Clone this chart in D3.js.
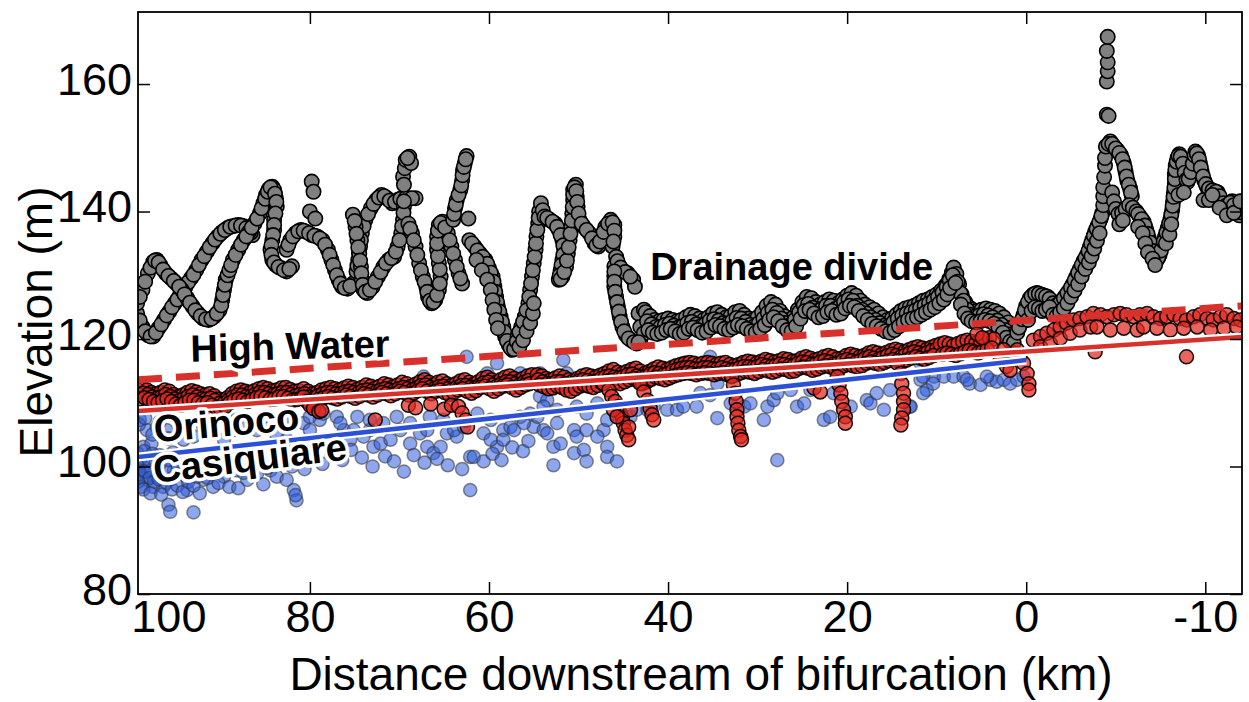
<!DOCTYPE html>
<html><head><meta charset="utf-8">
<script src="https://cdn.jsdelivr.net/npm/d3@7"></script>
<style>
html,body{margin:0;padding:0;background:#fff;}
svg{display:block;font-family:"Liberation Sans",Arial,Helvetica,sans-serif;}
</style></head><body>
<svg id="chart" width="1249" height="702"></svg>
<script>
// Elevation profiles along the Orinoco / Casiquiare bifurcation reach.
// Every record is [distance downstream of bifurcation (km), elevation (m)].

const drainageDivide = [
  [99.3,124.0],[98.7,121.9],[98.1,120.6],[97.5,120.4],[96.9,121.7],[96.3,123.0],[95.7,124.3],[95.1,125.6],[94.5,126.9],[93.9,128.2],[93.3,129.5],[92.7,130.8],[92.1,132.4],[91.5,133.7],[90.9,135.0],[90.3,136.1],[89.8,136.8],[89.2,137.4],[88.6,137.7],[88.0,137.9],[87.4,137.7],[86.8,137.1],[86.4,136.3],
  [99.0,122.9],[98.4,121.2],[97.8,120.4],[97.2,121.0],[96.6,122.3],[96.0,123.7],[95.4,125.0],[94.8,126.2],[94.2,127.5],[93.6,128.9],[93.0,130.1],[92.4,131.6],[91.8,133.0],[91.2,134.4],[90.6,135.6],[90.0,136.5],[89.5,137.1],[88.9,137.6],[88.3,137.8],[87.7,137.8],[87.1,137.4],[86.6,136.7],
  [99.3,125.6],[98.7,127.7],[98.1,130.3],[97.5,132.1],[97.1,132.4],[96.7,131.6],[96.1,130.3],[95.5,129.5],[94.9,128.7],[94.3,127.7],[93.7,126.4],[93.1,125.1],[92.5,124.0],[91.9,123.2],[91.3,123.0],[90.7,123.5],[90.1,124.5],[89.8,126.1],[89.6,127.7],[89.4,129.3],
  [99.0,126.6],[98.4,129.0],[97.8,131.2],[97.3,132.3],[96.9,132.0],[96.4,130.9],[95.8,129.9],[95.2,129.1],[94.6,128.2],[94.0,127.0],[93.4,125.7],[92.8,124.5],[92.2,123.6],[91.6,123.1],[91.0,123.2],[90.4,124.0],[89.9,125.3],[89.7,126.9],[89.5,128.5],[89.2,130.0],
  [89.0,130.8],[88.6,132.4],[88.0,134.0],[87.4,135.5],[86.8,136.8],[86.2,138.1],[85.6,139.7],[85.2,141.3],[84.9,142.6],[84.6,143.5],[84.2,143.9],[84.0,143.4],[83.8,142.1],[83.7,140.8],[84.0,138.7],[84.0,137.1],[84.2,135.5],[84.4,134.0],[84.2,132.4],[83.8,131.6],[83.2,131.1],[82.6,130.6],[82.0,131.4],
  [88.8,131.6],[88.3,133.2],[87.7,134.8],[87.1,136.1],[86.5,137.5],[85.9,138.9],[85.4,140.5],[85.0,142.0],[84.7,143.1],[84.4,143.8],[83.9,142.8],[83.75,141.5],[83.85,139.7],[84.0,137.9],[84.1,136.3],[84.3,134.7],[84.3,133.2],[84.0,132.0],[83.5,131.3],[82.9,130.8],[82.3,131.0],
  [82.6,134.0],[82.2,135.5],[81.6,136.6],[81.0,137.1],[80.4,136.8],[79.8,136.3],[79.2,136.1],[78.6,135.5],[78.0,134.0],[77.6,132.4],[77.2,130.8],[76.8,129.3],[76.4,128.2],[75.8,127.9],[75.2,128.7],
  [82.4,134.8],[81.9,136.1],[81.3,136.9],[80.7,137.0],[80.1,136.6],[79.5,136.2],[78.9,135.8],[78.3,134.8],[77.8,133.2],[77.4,131.6],[77.0,130.0],[76.6,128.7],[76.1,128.0],[75.5,128.3],
  [79.8,144.7],[79.6,143.1],[80.0,140.0],[79.4,138.9],
  [74.8,130.6],[74.6,132.4],[74.4,134.5],[74.2,136.6],[73.8,138.7],[73.2,140.5],[72.6,141.8],[72.0,142.6],[71.4,142.1],[70.8,141.3],[70.2,141.8],[69.6,142.1],[69.0,142.1],[68.2,142.1],
  [74.7,131.5],[74.5,133.5],[74.3,135.5],[74.0,137.7],[73.5,139.6],[72.9,141.2],[72.3,142.2],[71.7,142.4],[71.1,141.7],[70.5,141.5],[69.9,142.0],[69.3,142.1],[68.6,142.1],
  [75.2,139.5],[74.9,137.6],[74.7,135.5],[74.5,133.4],[74.3,131.3],[74.2,129.3],[74.0,127.7],[73.6,127.2],[73.0,128.2],[72.4,129.8],[71.8,131.3],[71.2,132.4],[70.6,132.9],
  [75.0,138.5],[74.8,136.5],[74.6,134.4],[74.4,132.3],[74.25,130.3],[74.1,128.5],[73.8,127.4],[73.3,127.7],[72.7,129.0],[72.1,130.5],[71.5,131.9],[70.9,132.7],
  [70.2,134.5],[69.8,136.6],[69.6,138.7],[69.5,140.8],[69.6,145.5],[69.4,146.8],[69.3,148.1],[68.9,148.6],[68.7,147.6],
  [70.4,133.7],[70.0,135.5],[69.7,137.7],[69.55,139.8],[69.5,141.6],[69.5,144.2],[69.1,148.4],
  [69.0,138.1],[68.6,136.6],[68.2,134.5],[67.8,131.9],[67.4,129.8],[67.0,128.2],[66.8,126.6],[66.4,125.6],[66.0,126.1],[65.6,127.7],[65.4,129.8],[65.6,131.9],[65.8,134.0],[65.8,136.1],[65.6,137.9],[65.2,138.4],[64.6,136.6],[64.2,134.5],[63.8,132.4],[63.4,130.3],[63.0,128.7],
  [68.8,137.3],[68.4,135.5],[68.0,133.2],[67.6,130.8],[67.2,129.0],[66.9,127.4],[66.6,126.0],[66.2,125.8],[65.8,126.9],[65.5,128.7],[65.5,130.9],[65.7,133.0],[65.8,135.0],[65.7,137.0],[65.4,138.2],[64.9,137.5],[64.4,135.5],[64.0,133.4],[63.6,131.3],[63.2,129.5],
  [64.0,138.7],[63.8,140.5],[63.6,141.8],[63.2,143.4],[63.0,144.9],[62.9,146.5],[62.7,147.6],[62.5,148.7],[62.3,138.9],
  [63.9,139.6],[63.7,141.1],[63.4,142.6],[63.1,144.1],[62.95,145.7],[62.8,147.0],[62.6,148.2],
  [62.2,135.5],[61.6,134.5],[61.0,133.4],[60.4,132.4],[60.0,131.1],[59.6,129.8],[59.4,128.2],[59.2,126.6],[59.0,125.1],[58.7,123.5],[58.4,121.9],[58.2,120.4],[57.8,119.1],[57.4,118.3],[57.0,118.8],
  [61.9,135.0],[61.3,133.9],[60.7,132.9],[60.2,131.8],[59.8,130.4],[59.5,129.0],[59.3,127.4],[59.1,125.8],[58.85,124.3],[58.55,122.7],[58.3,121.1],[58.0,119.7],[57.6,118.6],[57.2,118.4],
  [61.4,132.4],[60.8,130.8],[60.2,129.3],[59.8,127.7],[59.6,126.1],[59.4,124.6],[59.2,123.0],[59.0,121.7],
  [56.8,120.4],[56.4,121.9],[56.0,123.5],[55.6,125.6],[55.4,127.7],[55.2,129.8],[55.0,131.9],[54.8,134.0],[54.7,136.1],[54.5,138.1],[54.4,140.0],[54.2,141.3],
  [56.9,119.6],[56.6,121.1],[56.2,122.7],[55.8,124.5],[55.5,126.6],[55.3,128.7],[55.1,130.8],[54.9,132.9],[54.75,135.0],[54.6,137.1],[54.45,139.0],[54.0,140.2],
  [56.6,118.8],[56.2,119.8],[55.8,121.2],[55.4,122.5],[55.1,124.0],[55.0,125.6],
  [53.8,139.2],[53.2,138.7],[52.6,138.1],[52.2,137.1],[51.8,135.5],[51.6,134.0],[51.8,132.4],[52.0,130.8],[52.2,129.3],[51.8,129.8],[51.4,131.3],[51.2,133.4],[51.0,135.5],[50.8,137.6],[50.7,139.7],[50.6,141.8],[50.6,143.4],[50.3,144.2],[50.2,142.3],[50.1,140.8],[49.9,138.7],[49.4,137.6],[48.8,136.6],[48.2,135.0],[47.8,134.5],[47.4,136.1],[47.0,137.6],[46.4,138.7],[46.0,137.9],[46.0,136.1],[46.2,134.5],
  [53.5,139.0],[52.9,138.4],[52.4,137.6],[52.0,136.3],[51.7,134.7],[51.7,133.2],[51.9,131.6],[52.1,130.0],[52.0,129.4],[51.6,130.5],[51.3,132.3],[51.1,134.4],[50.9,136.5],[50.75,138.6],[50.65,140.7],[50.6,142.6],[50.45,143.8],[50.25,143.2],[50.15,141.5],[50.0,139.7],[49.65,138.1],[49.1,137.1],[48.5,135.8],[48.0,134.7],[47.6,135.3],[47.2,136.8],[46.7,138.1],[46.2,138.3],[46.0,137.0],[46.1,135.3],
  [45.8,132.9],[45.5,131.6],[45.1,130.8],[44.5,130.3],[43.9,129.3],[43.7,128.2],[46.0,131.4],[46.0,129.8],[46.0,128.2],[45.8,126.6],[45.6,125.1],[45.4,123.5],[45.1,121.9],[44.7,120.6],[44.1,119.8],[43.5,119.3],[43.1,119.8],[43.3,124.0],[42.7,124.6],[43.1,121.9],[42.7,120.9],
  [45.65,132.2],[45.3,131.2],[44.8,130.5],[44.2,129.8],[46.0,130.6],[46.0,129.0],[45.9,127.4],[45.7,125.8],[45.5,124.3],[45.25,122.7],[44.9,121.2],[44.4,120.1],[43.8,119.5],[43.3,119.5],
  [42.5,124.2],[42.0,123.6],[41.5,123.0],[41.0,122.8],[40.5,123.0],[40.0,123.2],[39.5,123.0],[39.0,122.8],[38.5,123.0],[38.0,123.4],[37.5,123.8],[37.0,123.6],[36.5,123.2],[36.0,123.0],[35.5,123.4],[35.0,124.0],[34.5,124.2],[34.0,123.8],[33.5,123.4],[33.0,123.6],[32.5,124.2],[32.0,124.4],[31.5,123.8],[31.0,123.2],[30.5,123.0],[30.0,123.4],[29.5,124.2],[29.0,125.2],[28.5,125.8],[28.0,125.4],[27.5,124.4],[27.0,123.6],[26.5,123.0],[26.0,123.4],[25.5,124.6],[25.0,125.8],[24.5,126.6],[24.0,126.4],[23.5,125.8],[23.0,125.4],[22.5,125.8],[22.0,126.2],[21.5,126.0],[21.0,125.6],[20.5,126.2],[20.0,126.8],[19.5,127.2],[19.0,126.8],[18.5,126.0],[18.0,125.4],[17.5,125.0],[17.0,124.6],[16.5,124.0],[16.0,123.4],[15.5,123.0],[15.0,123.2],[14.5,123.8],[14.0,124.4],[13.5,124.8],[13.0,125.0],[12.5,125.2],[12.0,125.6],[11.5,126.0],[11.0,126.2],[10.5,126.6],[10.0,127.0],[9.5,127.6],[9.0,128.4],[8.6,129.4],[8.3,130.4],[8.1,131.2],[7.8,130.2],[7.5,128.6],[7.2,127.0],[6.8,125.8],[6.4,125.0],[6.0,124.6],[5.5,124.4],[5.0,124.6],[4.5,124.8],[4.0,124.6],[3.5,124.4],[3.0,124.0],[2.5,123.4],[2.0,122.6],[1.6,121.8],[1.2,121.4],
  [42.35,122.8],[41.85,122.3],[41.35,121.9],[40.85,121.9],[40.35,122.2],[39.85,122.4],[39.35,122.1],[38.85,121.8],[38.35,122.0],[37.85,122.5],[37.35,122.7],[36.85,122.3],[36.35,122.0],[35.85,122.3],[35.35,122.9],[34.85,123.1],[34.35,122.9],[33.85,122.5],[33.35,122.4],[32.85,122.8],[32.35,123.3],[31.85,123.2],[31.35,122.7],[30.85,122.2],[30.35,122.0],[29.85,122.5],[29.35,123.2],[28.85,124.1],[28.35,124.6],[27.85,124.1],[27.35,123.2],[26.85,122.5],[26.35,122.2],[25.85,123.0],[25.35,124.2],[24.85,125.3],[24.35,125.5],[23.85,124.9],[23.35,124.4],[22.85,124.7],[22.35,125.2],[21.85,125.2],[21.35,124.7],[20.85,125.0],[20.35,125.8],[19.85,126.2],[19.35,126.0],[18.85,125.2],[18.35,124.6],[17.85,124.0],[17.35,123.4],[16.85,123.0],[16.35,122.5],[15.85,122.1],[15.35,122.0],[14.85,122.6],[14.35,123.2],[13.85,123.7],[13.35,124.0],[12.85,124.2],[12.35,124.5],[11.85,124.9],[11.35,125.2],[10.85,125.6],[10.35,126.0],[9.85,126.6],[9.35,127.3],[8.9,128.2],[8.55,129.2],[8.2,130.0],[7.65,129.0],[7.35,127.2],[7.0,126.0],[6.6,124.6],[6.2,123.8],[5.75,123.5],[5.25,123.7],[4.75,123.9],[4.25,123.7],[3.75,123.4],[3.25,122.9],[2.75,122.2],[2.35,121.4],[1.9,120.7],[1.5,120.4],
  [42.2,121.4],[41.7,121.0],[41.2,120.8],[40.7,121.0],[40.2,121.4],[39.7,121.6],[39.2,121.2],[38.7,120.8],[38.2,121.0],[37.7,121.6],[37.2,121.8],[36.7,121.4],[36.2,121.0],[35.7,121.2],[35.2,121.8],[34.7,122.2],[34.2,122.0],[33.7,121.6],[33.2,121.4],[32.7,121.8],[32.2,122.2],[31.7,122.0],[31.2,121.6],[30.7,121.2],[30.2,121.0],[29.7,121.6],[29.2,122.2],[28.7,123.0],[28.2,123.4],[27.7,122.8],[27.2,122.0],[26.7,121.4],[26.2,121.2],[25.7,122.0],[25.2,123.2],[24.7,124.4],[24.2,124.6],[23.7,124.0],[23.2,123.4],[22.7,123.6],[22.2,124.2],[21.7,124.4],[21.2,123.8],[20.7,124.0],[20.2,124.8],[19.7,125.2],[19.2,125.0],[18.7,124.4],[18.2,123.6],[17.7,123.0],[17.2,122.4],[16.7,122.0],[16.2,121.6],[15.7,121.2],[15.2,121.0],[14.7,121.4],[14.2,122.0],[13.7,122.6],[13.2,123.0],[12.7,123.2],[12.2,123.4],[11.7,123.8],[11.2,124.2],[10.7,124.6],[10.2,125.0],[9.7,125.6],[9.2,126.2],[8.8,127.0],[8.5,128.0],[7.9,128.8],[7.3,125.4],[6.9,124.0],[6.5,123.2],[6.1,122.8],[5.6,122.6],[5.1,122.8],[4.6,123.0],[4.1,122.8],[3.6,122.4],[3.1,121.8],[2.6,121.0],[2.2,120.2],[1.8,119.6],[1.4,119.4],
  [1.0,121.0],[0.6,122.4],[0.3,123.8],[0.0,125.2],[-0.4,126.4],[-0.8,127.0],[-1.2,127.2],[-1.6,127.0],[-2.0,126.8],[-2.4,126.6],[-2.8,126.0],[-3.2,125.2],[-3.6,125.4],[-4.0,126.0],[-4.4,126.8],[-4.8,127.6],[-5.2,128.6],[-5.6,129.8],[-6.0,131.0],[-6.4,132.2],[-6.8,133.2],[-7.1,134.4],[-7.4,135.6],[-7.7,136.8],[-8.0,137.8],[-8.3,138.8],[-8.5,139.8],
  [0.8,121.8],[0.45,123.1],[0.15,124.5],[-0.2,125.8],[-0.6,126.7],[-1.0,127.1],[-1.4,127.1],[-1.8,126.9],[-2.2,126.7],[-2.6,126.3],[-3.0,125.6],[-3.4,125.3],[-3.8,125.7],[-4.2,126.4],[-4.6,127.2],[-5.0,128.1],[-5.4,129.2],[-5.8,130.4],[-6.2,131.6],[-6.6,132.7],[-6.95,133.8],[-7.25,135.0],[-7.55,136.2],[-7.85,137.3],[-8.15,138.3],[-8.4,139.3],
  [-0.2,123.0],[-0.6,124.4],[-1.0,125.0],[-1.4,124.8],[-1.8,124.4],[-2.2,124.6],[-2.6,125.0],[-3.0,123.8],[-3.4,123.6],[-3.8,124.2],[-4.2,124.8],[-4.6,125.6],[-5.0,126.6],[-5.4,127.6],[-5.8,128.6],[-6.2,129.8],[-6.6,131.0],[-7.0,132.0],[-7.3,133.0],[-7.6,134.2],[-7.9,135.4],[-8.2,136.6],
  [-8.6,141.0],[-8.6,142.4],[-8.6,143.8],[-8.7,145.4],[-8.8,147.2],[-8.8,148.4],[-8.9,150.2],[-9.0,155.2],[-9.2,155.0],[-9.0,160.4],[-9.1,162.0],[-9.1,163.4],[-9.0,165.2],[-9.1,167.4],
  [-9.4,151.0],[-9.8,150.2],[-10.2,149.6],[-10.6,148.8],[-10.9,147.6],[-11.1,146.2],[-11.3,144.8],[-11.6,143.6],[-11.8,142.4],
  [-9.2,150.6],[-9.6,150.6],[-10.0,149.9],[-10.4,149.2],[-10.75,148.2],[-11.0,146.9],[-11.2,145.5],[-11.45,144.2],[-11.7,143.0],
  [-9.6,143.0],[-9.8,141.6],[-10.0,140.4],[-10.3,139.6],[-10.7,139.8],[-11.1,140.4],[-11.5,141.0],[-11.9,140.6],[-12.3,140.0],[-12.7,139.2],[-13.1,138.4],[-13.4,137.2],[-13.7,135.8],[-14.0,134.4],[-14.3,133.2],[-14.6,132.4],[-14.9,133.2],[-15.2,134.6],[-15.5,136.0],[-15.8,137.4],[-16.1,138.8],[-16.3,140.2],[-16.4,141.6],[-16.5,143.0],[-16.6,144.4],[-16.6,145.8],[-16.7,147.2],[-16.9,148.4],[-17.1,149.0],[-17.4,148.2],[-17.6,146.8],[-17.8,145.4],[-18.0,144.6],[-18.3,145.6],[-18.5,146.8],[-18.7,148.2],[-18.9,149.4],[-19.2,148.8],[-19.4,147.6],[-19.6,146.2],[-19.9,144.8],[-20.2,143.8],[-20.6,143.4],[-21.0,143.2],[-21.4,143.0],[-21.8,141.8],[-22.2,140.8],[-22.6,141.2],[-23.0,141.6],[-23.4,140.4],[-23.8,139.4],[-24.1,140.4],
  [-12.5,139.6],[-12.9,138.8],[-13.25,137.8],[-13.55,136.5],[-13.85,135.1],[-14.15,133.8],[-14.45,132.8],[-14.75,132.8],[-15.05,133.9],[-15.35,135.3],[-15.65,136.7],[-15.95,138.1],[-16.2,139.5],[-16.35,140.9],[-16.45,142.3],[-16.55,143.7],[-16.6,145.1],[-16.65,146.5],[-16.8,147.8],[-17.0,148.7],[-17.25,148.6],[-17.5,147.5],[-17.7,146.1],[-17.9,145.0],[-18.15,145.1],[-18.4,146.2],[-18.6,147.5],[-18.8,148.8],[-19.05,149.1],[-19.3,148.2],[-19.5,146.9],[-19.75,145.5],[-20.05,144.3],[-20.4,143.6],[-20.8,143.3],[-21.2,143.1],[-21.6,142.4],[-22.0,141.3],[-22.4,141.0],[-22.8,141.4],[-23.2,141.0],[-23.6,139.9],[-23.95,139.9],
  [-10.4,138.0],[-10.8,138.6],[-12.5,137.6],[-13.0,136.6],[-13.3,135.0],[-13.6,133.6],[-14.1,132.6],[-14.4,131.6],[-15.6,135.0],[-16.0,136.4],[-16.2,138.0],[-17.0,142.6],[-17.6,143.0],[-19.8,141.8],[-20.4,141.8],[-20.8,142.6],[-21.6,140.6],[-22.4,139.4],[-23.2,139.8],[-23.9,141.6]
];

const orinoco = [
  [99.2,112.0],[98.7,112.3],[98.2,112.0],[97.7,111.6],[97.2,111.4],[96.7,111.6],[96.2,112.0],[95.7,111.8],[95.2,111.3],[94.7,111.0],[94.2,111.2],[93.7,111.6],[93.2,111.9],[92.7,111.7],[92.2,111.4],[91.7,111.2],[91.2,111.4],[90.7,111.1],[90.2,110.6],[89.7,110.4],[89.2,110.8],[88.7,111.4],[88.2,111.8],[87.7,112.0],[87.2,111.8],[86.7,111.6],[86.2,111.9],[85.7,112.2],[85.2,112.4],[84.7,112.2],[84.2,111.9],[83.7,112.0],[83.2,112.3],[82.7,112.4],[82.2,112.1],[81.7,111.8],[81.2,111.9],[80.7,112.2],[80.2,111.8],[79.7,111.4],[79.2,111.6],[78.7,112.0],[78.2,112.2],[77.7,112.4],[77.2,112.2],[76.7,112.0],[76.2,112.3],[75.7,112.6],[75.2,112.4],[74.7,112.1],[74.2,112.4],[73.7,112.8],[73.2,112.6],[72.7,112.3],[72.2,112.6],[71.7,113.0],[71.2,112.8],[70.7,112.5],[70.2,112.8],[69.7,113.2],[69.2,113.0],[68.7,112.6],[68.2,112.9],[67.7,113.3],[67.2,113.6],[66.7,113.2],[66.2,112.8],[65.7,113.2],[65.2,113.4],[64.7,113.0],[64.2,112.7],[63.7,113.0],[63.2,113.4],[62.7,113.6],[62.2,113.2],[61.7,112.9],[61.2,113.3],[60.7,113.8],[60.2,114.0],[59.7,113.6],[59.2,113.2],[58.7,113.6],[58.2,114.0],[57.7,114.2],[57.2,113.8],[56.7,113.4],[56.2,113.8],[55.7,114.2],[55.2,114.4],
  [99.1,111.3],[98.6,111.5],[98.1,111.3],[97.6,110.9],[97.1,110.7],[96.6,110.9],[96.1,111.3],[95.6,111.0],[95.1,110.6],[94.6,110.3],[94.1,110.6],[93.6,111.0],[93.1,111.2],[92.6,110.9],[92.1,110.6],[91.6,110.6],[91.1,110.7],[90.6,110.4],[90.1,109.9],[89.6,109.9],[89.1,110.4],[88.6,110.9],[88.1,111.2],[87.6,111.2],[87.1,111.0],[86.6,111.0],[86.1,111.3],[85.6,111.6],[85.1,111.6],[84.6,111.4],[84.1,111.2],[83.6,111.4],[83.1,111.6],[82.6,111.6],[82.1,111.3],[81.6,111.1],[81.1,111.3],[80.6,111.4],[80.1,110.9],[79.6,110.7],[79.1,111.1],[78.6,111.4],[78.1,111.6],[77.6,111.6],[77.1,111.4],[76.6,111.4],[76.1,111.7],[75.6,111.8],[75.1,111.6],[74.6,111.5],[74.1,111.9],[73.6,112.0],[73.1,111.8],[72.6,111.7],[72.1,112.0],[71.6,112.2],[71.1,112.0],[70.6,111.9],[70.1,112.2],[69.6,112.4],[69.1,112.2],[68.6,112.0],[68.1,112.3],[67.6,112.7],[67.1,112.8],[66.6,112.4],[66.1,112.2],[65.6,112.5],[65.1,112.6],[64.6,112.2],[64.1,112.1],[63.6,112.4],[63.1,112.7],[62.6,112.7],[62.1,112.4],[61.6,112.3],[61.1,112.7],[60.6,113.1],[60.1,113.2],[59.6,112.8],[59.1,112.6],[58.6,113.0],[58.1,113.3],[57.6,113.3],[57.1,113.0],[56.6,112.8],[56.1,113.2],[55.6,113.5],
  [98.95,110.6],[98.45,110.8],[97.95,110.5],[97.45,110.2],[96.95,110.0],[96.45,110.3],[95.95,110.6],[95.45,110.2],[94.95,109.8],[94.45,109.6],[93.95,110.0],[93.45,110.4],[92.95,110.4],[92.45,110.0],[91.95,109.8],[91.45,110.0],[90.95,109.6],[90.45,109.2],[89.95,109.0],[89.45,109.4],[88.95,110.0],[88.45,110.4],[87.95,110.6],[87.45,110.4],[86.95,110.2],[86.45,110.5],[85.95,110.8],[85.45,111.0],[84.95,110.8],[84.45,110.5],[83.95,110.6],[83.45,110.9],[82.95,111.0],[82.45,110.7],[81.95,110.4],[81.45,110.5],[80.95,110.8],[80.45,110.4],[79.95,110.0],[79.45,110.2],[78.95,110.6],[78.45,110.8],[77.95,111.0],[77.45,110.8],[76.95,110.6],[76.45,110.9],[75.95,111.2],[75.45,111.0],[74.95,110.7],[74.45,111.0],[73.95,111.4],[73.45,111.2],[72.95,110.9],[72.45,111.2],[71.95,111.6],[71.45,111.4],[70.95,111.1],[70.45,111.4],[69.95,111.8],[69.45,111.6],[68.95,111.2],[68.45,111.5],[67.95,111.9],[67.45,112.2],[66.95,111.8],[66.45,111.4],[65.95,111.8],[65.45,112.0],[64.95,111.6],[64.45,111.3],[63.95,111.6],[63.45,112.0],[62.95,112.2],[62.45,111.8],[61.95,111.5],[61.45,111.9],[60.95,112.4],[60.45,112.6],[59.95,112.2],[59.45,111.8],[58.95,112.2],[58.45,112.6],[57.95,112.8],[57.45,112.4],[56.95,112.0],[56.45,112.4],[55.95,112.8],[55.45,113.0],
  [80.7,110.9],[80.3,110.2],[80.0,109.6],[79.6,109.1],[79.0,108.6],[78.7,108.8],[72.7,107.3],[69.0,109.6],[68.2,109.2],[66.5,109.8],[65.0,109.0],[64.2,109.6],[63.4,109.4],[63.0,108.4],[62.6,107.3],[62.4,106.2],
  [54.6,114.4],[54.1,114.2],[53.6,113.8],[53.1,113.6],[52.6,113.9],[52.1,114.2],[51.6,114.0],[51.1,113.6],[50.6,113.4],[50.1,113.8],[49.6,114.2],[49.1,114.4],[48.6,114.2],[48.1,114.0],[47.6,114.3],[47.1,114.6],[46.6,115.0],[46.1,115.2],[45.6,114.8],[45.1,114.6],[44.6,114.9],[44.1,115.2],[43.6,115.4],[43.1,115.0],[42.6,114.6],[42.1,114.9],[41.6,115.3],[41.1,115.6],[40.6,115.4],[40.1,115.2],[39.6,115.5],[39.1,115.8],[38.6,116.0],[38.1,116.2],[37.6,116.3],[37.1,116.2],[36.6,116.0],[36.1,116.2],[35.6,116.3],[35.1,116.2],[34.6,116.0],[34.1,116.2],[33.6,116.3],[33.1,116.0],[32.6,115.8],[32.1,116.0],[31.6,116.3],[31.1,116.5],[30.6,116.4],[30.1,116.2],[29.6,116.5],[29.1,116.8],[28.6,116.6],[28.1,116.4],[27.6,116.6],[27.1,116.9],[26.6,116.8],[26.1,116.5],[25.6,116.6],[25.1,117.0],[24.6,117.2],[24.1,117.0],[23.6,116.7],[23.1,116.9],[22.6,117.2],[22.1,117.4],[21.6,117.2],[21.1,116.9],[20.6,117.0],[20.1,117.4],[19.6,117.6],[19.1,117.4],[18.6,117.2],[18.1,117.4],[17.6,117.8],[17.1,118.0],[16.6,117.8],[16.1,117.6],[15.6,117.9],[15.1,118.2],[14.6,118.4],[14.1,118.2],[13.6,118.0],[13.1,118.3],[12.6,118.6],[12.1,118.8],[11.6,118.6],[11.1,118.4],[10.6,118.7],[10.1,119.0],
  [54.5,113.6],[54.0,113.3],[53.5,113.0],[53.0,113.0],[52.5,113.3],[52.0,113.3],[51.5,113.0],[51.0,112.7],[50.5,113.0],[50.0,113.4],[49.5,113.6],[49.0,113.5],[48.5,113.3],[48.0,113.4],[47.5,113.8],[47.0,114.1],[46.5,114.2],[46.0,114.0],[45.5,113.9],[45.0,114.1],[44.5,114.4],[44.0,114.5],[43.5,114.2],[43.0,114.0],[42.5,114.1],[42.0,114.5],[41.5,114.7],[41.0,114.6],[40.5,114.4],[40.0,114.6],[39.5,115.0],[39.0,115.2],[38.5,115.4],[38.0,115.5],[37.5,115.5],[37.0,115.3],[36.5,115.3],[36.0,115.5],[35.5,115.5],[35.0,115.3],[34.5,115.3],[34.0,115.5],[33.5,115.3],[33.0,115.1],[32.5,115.2],[32.0,115.5],[31.5,115.7],[31.0,115.6],[30.5,115.5],[30.0,115.7],[29.5,116.0],[29.0,115.8],[28.5,115.7],[28.0,115.8],[27.5,116.1],[27.0,116.0],[26.5,115.8],[26.0,115.8],[25.5,116.2],[25.0,116.4],[24.5,116.3],[24.0,116.0],[23.5,116.1],[23.0,116.4],[22.5,116.6],[22.0,116.4],[21.5,116.1],[21.0,116.2],[20.5,116.6],[20.0,116.8],[19.5,116.6],[19.0,116.4],[18.5,116.6],[18.0,117.0],[17.5,117.2],[17.0,117.0],[16.5,116.8],[16.0,117.1],[15.5,117.4],[15.0,117.6],[14.5,117.4],[14.0,117.2],[13.5,117.5],[13.0,117.8],[12.5,118.0],[12.0,117.8],[11.5,117.6],[11.0,117.9],[10.5,118.2],[10.0,118.4],
  [54.35,112.8],[53.85,112.5],[53.35,112.2],[52.85,112.3],[52.35,112.6],[51.85,112.4],[51.35,112.0],[50.85,111.8],[50.35,112.2],[49.85,112.6],[49.35,112.8],[48.85,112.6],[48.35,112.4],[47.85,112.7],[47.35,113.0],[46.85,113.4],[46.35,113.5],[45.85,113.2],[45.35,113.0],[44.85,113.3],[44.35,113.6],[43.85,113.8],[43.35,113.4],[42.85,113.0],[42.35,113.3],[41.85,113.7],[41.35,114.0],[40.85,113.8],[40.35,113.6],[39.85,113.9],[39.35,114.2],[38.85,114.4],[38.35,114.6],[37.85,114.7],[37.35,114.6],[36.85,114.4],[36.35,114.6],[35.85,114.7],[35.35,114.6],[34.85,114.4],[34.35,114.6],[33.85,114.7],[33.35,114.4],[32.85,114.2],[32.35,114.4],[31.85,114.7],[31.35,114.9],[30.85,114.8],[30.35,114.6],[29.85,114.9],[29.35,115.2],[28.85,115.0],[28.35,114.8],[27.85,115.0],[27.35,115.3],[26.85,115.2],[26.35,114.9],[25.85,115.0],[25.35,115.4],[24.85,115.6],[24.35,115.4],[23.85,115.1],[23.35,115.3],[22.85,115.6],[22.35,115.8],[21.85,115.6],[21.35,115.3],[20.85,115.4],[20.35,115.8],[19.85,116.0],[19.35,115.8],[18.85,115.6],[18.35,115.8],[17.85,116.2],[17.35,116.4],[16.85,116.2],[16.35,116.0],[15.85,116.3],[15.35,116.6],[14.85,116.8],[14.35,116.6],[13.85,116.4],[13.35,116.7],[12.85,117.0],[12.35,117.2],[11.85,117.0],[11.35,116.8],[10.85,117.1],[10.35,117.4],
  [47.2,113.0],[46.6,112.0],[46.3,111.0],[45.9,110.2],[45.5,109.4],[45.3,108.3],[45.1,107.6],[45.0,106.8],[44.8,105.7],[44.6,104.9],[44.4,104.2],[46.1,108.9],[45.7,107.8],[44.2,108.9],[44.4,106.2],
  [43.1,113.0],[42.7,111.7],[42.3,110.4],[42.0,109.1],[41.8,108.1],[41.6,107.3],
  [32.9,114.1],[32.7,112.8],[32.5,111.5],[32.4,110.2],[32.3,108.9],[32.3,107.8],[32.2,106.8],[32.1,105.7],[31.9,104.7],[31.8,104.2],
  [23.7,112.3],[23.0,111.7],
  [21.1,114.1],[20.9,112.8],[20.7,111.5],[20.6,110.2],[20.4,108.9],[20.2,107.8],[20.2,106.8],
  [14.4,116.2],[14.0,114.6],[13.9,113.0],[13.7,111.5],[13.7,110.2],[13.7,108.9],[13.9,107.6],[14.0,106.5],
  [9.6,119.2],[9.1,119.4],[8.6,119.2],[8.1,119.0],[7.6,119.3],[7.1,119.6],[6.6,119.8],[6.1,119.6],[5.6,119.4],[5.1,119.7],[4.6,120.0],[4.1,120.2],[3.6,120.0],
  [9.35,117.6],[8.85,117.8],[8.35,117.6],[7.85,117.4],[7.35,117.7],[6.85,118.0],[6.35,118.2],[5.85,118.0],[5.35,117.8],[4.85,118.1],[4.35,118.4],[3.85,118.6],
  [2.2,115.7],[1.8,116.7],[1.4,117.8],[1.0,118.3],[0.7,117.2],[0.3,116.2],[-0.1,114.6],[-0.3,113.0],[-0.3,112.0],[2.5,118.3],[2.9,116.7],[1.8,115.1],
  [-0.8,119.8],[-1.6,120.4],[-2.3,120.9],[-3.1,121.4],[-3.8,121.9],[-4.5,122.5],[-5.3,123.0],[-6.0,123.2],[-6.8,123.5],
  [-1.6,118.8],[-2.7,119.3],[-3.8,120.1],[-4.9,120.9],[-6.0,121.4],[-7.2,121.9],
  [-7.5,124.0],[-8.3,123.8],[-9.0,123.5],[-9.8,123.8],[-10.5,124.0],[-11.2,123.8],[-12.0,123.5],[-7.9,121.9],[-9.4,121.4],[-10.9,121.7],[-12.4,121.4],
  [-12.7,123.8],[-13.5,124.0],[-14.2,123.5],[-15.0,123.2],[-15.7,123.5],[-16.5,123.8],[-17.2,123.2],[-17.9,123.0],[-18.7,123.5],[-19.4,123.8],[-20.2,123.2],[-20.9,123.0],[-21.7,123.5],[-22.4,123.8],[-23.2,123.2],[-23.9,123.0],
  [-13.1,121.9],[-14.6,121.7],[-16.1,121.4],[-17.6,121.7],[-19.1,121.9],[-20.6,121.4],[-22.1,121.7],[-23.5,121.9],
  [-7.7,118.0],[-17.9,117.2],[5.5,120.8],[4.9,120.2]
];

const casiquiare = [
  [99.0,107.3],[98.2,105.7],[97.1,106.2],[96.0,105.7],[98.6,103.1],[97.7,103.6],[99.3,100.5],[98.6,100.0],[97.8,99.4],[97.1,98.4],[98.9,98.4],[98.2,97.9],[96.4,96.8],[95.6,97.9],[98.8,96.8],[97.5,96.8],[99.1,99.4],[96.7,100.5],[95.2,99.4],[94.9,100.5],[94.5,105.7],[94.1,104.2],[95.8,94.0],[95.6,92.9],[93.0,92.8],[93.7,96.3],[94.5,98.9],[93.4,98.4],[93.0,104.7],[91.9,106.2],[90.8,105.2],[91.9,97.9],[92.3,95.8],[90.8,96.8],[89.6,98.4],[89.6,104.2],[88.5,105.7],[88.2,99.4],[87.0,106.8],[87.0,97.9],[85.9,105.7],[85.9,98.9],[84.4,106.2],[84.4,99.4],[83.7,104.7],[83.7,98.4],[82.6,104.2],[82.6,97.9],[81.8,96.3],[81.5,94.7],[81.6,95.5],
  [80.7,106.8],[80.0,105.7],[78.9,107.3],[78.5,104.2],[77.0,107.8],[76.2,105.7],[75.1,105.7],[74.7,107.8],[74.0,104.7],[73.3,105.7],[72.9,103.1],[72.1,103.6],[71.0,104.2],[69.9,105.7],[68.8,103.6],[67.7,105.2],[66.9,103.1],[66.2,102.1],[65.4,103.1],[64.7,105.2],[63.6,104.7],[62.1,101.5],[61.7,101.5],[69.5,99.2],[62.1,96.3],[60.6,105.2],[59.8,107.3],[59.1,103.1],[58.4,105.7],[57.6,106.2],[56.5,107.8],[55.4,108.3],[55.0,106.2],[62.5,117.2],[59.1,116.2],[60.2,114.6],[56.5,114.6],[55.4,113.6],[67.3,114.1],
  [91.9,107.8],[90.0,108.3],[88.2,107.3],[82.6,107.8],[80.0,107.8],[78.5,108.3],[76.6,106.8],[75.5,104.2],[73.3,107.3],[71.8,106.8],[70.3,107.8],[68.8,106.8],[66.9,105.7],[66.6,107.8],[65.1,107.3],[63.9,105.7],[62.8,106.2],[61.3,108.3],[59.8,104.2],[58.4,104.2],[57.2,105.7],[56.1,106.8],
  [99.2,102.0],[98.9,101.2],[98.5,102.4],[98.0,101.0],[97.6,102.0],[97.2,100.8],[96.8,101.8],[96.2,99.8],[95.8,101.0],[95.3,102.2],[99.0,98.8],[98.4,99.2],[97.9,98.2],[97.4,97.6],[96.9,98.0],[96.0,97.4],[99.2,97.6],[98.6,96.4],[97.8,95.8],[96.6,95.6],[95.4,96.4],[94.8,97.0],[94.2,96.0],[93.6,97.6],[93.0,97.0],[92.6,98.4],[92.0,99.4],[91.4,98.2],[90.6,99.0],[90.2,97.4],[89.0,96.8],[88.0,96.6],[87.4,99.0],[86.4,100.2],[85.2,97.2],[84.8,99.8],[83.2,101.0],[82.0,100.0],[80.6,99.6],[79.6,101.4],[78.6,100.4],[77.6,102.0],[76.4,101.0],[75.4,102.6],[74.2,101.4],[73.0,100.0],[71.6,101.6],[70.6,100.8],[68.4,101.8],[67.2,100.6],[65.8,101.2],[64.6,100.2],[63.0,99.6],[60.6,100.8],[59.6,102.0],[58.6,101.0],[57.4,103.0],[56.2,102.4],[55.6,104.0],
  [99.1,106.6],[98.4,107.6],[97.6,105.0],[96.8,107.0],[95.8,104.4],
  [54.3,114.6],[51.7,116.7],[51.3,114.6],[54.3,111.0],[53.5,110.4],[54.6,107.8],[53.9,105.7],[53.5,105.2],[52.8,103.1],[52.0,103.6],[50.5,105.7],[50.2,104.7],[50.5,102.1],[49.4,102.6],[49.1,100.8],[52.8,100.2],[46.8,103.1],[46.8,101.5],[45.7,100.8],[47.2,105.7],[45.7,107.8],[44.2,107.8],[43.5,108.9],[42.3,108.9],[41.6,109.4],[40.1,108.9],[39.0,108.9],[38.3,109.4],[36.8,109.4],[36.4,111.5],[35.3,111.2],[39.4,115.7],[38.3,116.2],[35.3,117.2],[34.5,113.0],[34.5,107.6],[33.0,109.9],[31.5,109.4],[30.8,109.9],[29.3,107.3],[28.9,109.4],[28.2,110.4],[27.8,111.5],[27.8,101.0],[26.3,112.0],[25.6,109.4],[24.8,109.9],[24.1,112.0],[22.6,107.3],[21.9,107.8],[21.5,111.5],[19.6,109.4],[17.8,110.4],[17.4,109.9],[16.7,111.5],[15.9,108.9],[15.2,112.0],[12.9,109.4],[11.8,113.6],[11.1,112.0],[10.3,114.1],
  [50.2,109.4],[49.1,108.3],[47.9,109.9],[46.8,107.3],[52.4,108.9],[53.9,109.4],[49.1,105.7],[47.9,104.7],[52.4,106.8],
  [11.5,114.1],[11.5,111.5],[13.0,109.4],[9.2,114.1],[8.1,114.1],[7.0,114.1],[6.3,113.0],[5.1,112.8],[4.0,113.6],[3.3,113.3],[2.5,113.6],[1.8,113.0],[1.0,113.6],[0.3,114.1],[10.4,113.0],[6.6,113.6],[4.4,114.1],[11.8,116.2]
];

// Straight reference lines: [distance, elevation] end points
const highWater = [[99.2,113.6],[-24.1,125.2]];
const orinocoFit = [[99.2,108.7],[-24.1,120.3]];
const casiquiareFit = [[99.2,101.5],[0,116.7]];

// Axis ticks
const xTickValues = [100, 80, 60, 40, 20, 0, -20];
const xTickLabels = ["100", "80", "60", "40", "20", "0", "-10"];
const yTickValues = [80, 100, 120, 140, 160];
const xDomain = [99.2, -24.1];
const yDomain = [80, 171.3];

const svg = d3.select("#chart");
const plot = {left: 138, right: 1242, top: 12, bottom: 594};

const x = d3.scaleLinear().domain(xDomain).range([plot.left, plot.right]);
const y = d3.scaleLinear().domain(yDomain).range([plot.bottom, plot.top]);

svg.append("defs").append("clipPath").attr("id", "plotClip")
  .append("rect").attr("x", plot.left).attr("y", plot.top)
  .attr("width", plot.right - plot.left).attr("height", plot.bottom - plot.top);

const body = svg.append("g").attr("clip-path", "url(#plotClip)");

function scatter(data, r, fill, fillOpacity, stroke, strokeOpacity, sw) {
  body.append("g").selectAll("circle").data(data).join("circle")
    .attr("cx", d => x(d[0])).attr("cy", d => y(d[1])).attr("r", r)
    .attr("fill", fill).attr("fill-opacity", fillOpacity)
    .attr("stroke", stroke).attr("stroke-opacity", strokeOpacity).attr("stroke-width", sw);
}

scatter(drainageDivide, 7.2, "#808080", 1, "#000", 1, 1.6);
scatter(casiquiare, 6.6, "#2f5ce0", 0.55, "#333", 0.55, 1.5);
scatter(orinoco, 7.0, "#e0281f", 0.72, "#000", 0.9, 1.5);

const line = d3.line().x(d => x(d[0])).y(d => y(d[1]));

body.append("path").datum(highWater).attr("d", line)
  .attr("fill", "none").attr("stroke", "#d8302b").attr("stroke-width", 7)
  .attr("stroke-dasharray", "24,14");

[[orinocoFit, "#d8302b"], [casiquiareFit, "#2b50d6"]].forEach(([pts, col]) => {
  body.append("path").datum(pts).attr("d", line)
    .attr("fill", "none").attr("stroke", "#fff").attr("stroke-width", 9);
  body.append("path").datum(pts).attr("d", line)
    .attr("fill", "none").attr("stroke", col).attr("stroke-width", 4.5);
});

// In-plot labels with a white halo
function label(text, px, py, angle) {
  svg.append("text")
    .attr("transform", `translate(${px},${py}) rotate(${angle})`)
    .attr("font-size", 38).attr("font-weight", "bold")
    .attr("stroke", "#fff").attr("stroke-width", 7).attr("stroke-linejoin", "round")
    .attr("paint-order", "stroke").attr("fill", "#000")
    .text(text);
}
label("Drainage divide", x(42.0), y(122.5) - 43, 0);
label("High Water", x(93.3), y(113.6) - 18, -1.5);
label("Orinoco", x(97.3), y(103.8), -5);
label("Casiquiare", x(97.3), y(97.4), -7);

// Axes: ticks point inward on all four sides
const tickLen = 12;
const fontTick = 45;

const xInside = xTickValues.filter(v => v <= xDomain[0] && v >= xDomain[1]);

const gB = svg.append("g").attr("transform", `translate(0,${plot.bottom})`)
  .call(d3.axisBottom(x).tickValues(xTickValues)
    .tickFormat((d, i) => xTickLabels[i]).tickSizeInner(-tickLen).tickSizeOuter(0));
gB.select(".domain").remove();
gB.selectAll(".tick").each(function(d) {
  const g = d3.select(this);
  const outside = d > xDomain[0] || d < xDomain[1];
  if (outside) g.select("line").remove();
  g.select("text").attr("y", 38).attr("dy", 0)
    .attr("font-size", fontTick).attr("fill", "#000")
    .attr("font-family", "Liberation Sans, Arial, sans-serif")
    .attr("text-anchor", outside ? "start" : "middle");
});

svg.append("g").attr("transform", `translate(0,${plot.top})`)
  .call(d3.axisTop(x).tickValues(xInside).tickFormat("").tickSizeInner(-tickLen).tickSizeOuter(0))
  .select(".domain").remove();

const gL = svg.append("g").attr("transform", `translate(${plot.left},0)`)
  .call(d3.axisLeft(y).tickValues(yTickValues).tickSizeInner(-tickLen).tickSizeOuter(0));
gL.select(".domain").remove();
gL.selectAll(".tick text").attr("x", -6).attr("dy", 0).attr("y", 10)
  .attr("font-size", fontTick).attr("fill", "#000")
  .attr("font-family", "Liberation Sans, Arial, sans-serif");

svg.append("g").attr("transform", `translate(${plot.right},0)`)
  .call(d3.axisRight(y).tickValues(yTickValues).tickFormat("").tickSizeInner(-tickLen).tickSizeOuter(0))
  .select(".domain").remove();

svg.selectAll(".tick line").attr("stroke", "#000").attr("stroke-width", 1.5);

svg.append("rect").attr("x", plot.left).attr("y", plot.top)
  .attr("width", plot.right - plot.left).attr("height", plot.bottom - plot.top)
  .attr("fill", "none").attr("stroke", "#000").attr("stroke-width", 1.8);

// Axis titles
svg.append("text").attr("x", 701).attr("y", 690)
  .attr("text-anchor", "middle").attr("font-size", 46).attr("fill", "#000")
  .text("Distance downstream of bifurcation (km)");

svg.append("text").attr("transform", `translate(52,${(plot.top + plot.bottom) / 2 + 19}) rotate(-90)`)
  .attr("text-anchor", "middle").attr("font-size", 46).attr("fill", "#000")
  .text("Elevation (m)");
</script>
</body></html>
